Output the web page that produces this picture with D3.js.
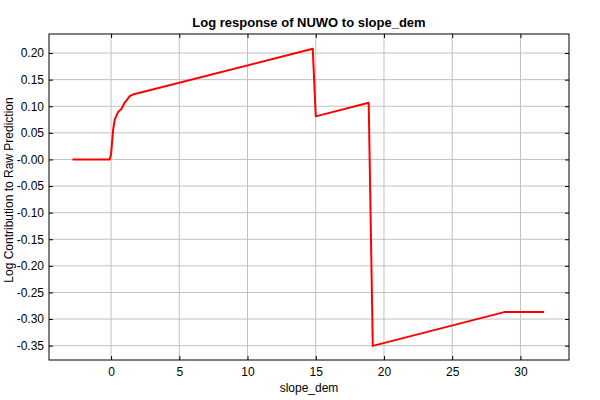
<!DOCTYPE html>
<html lang="en">
<meta charset="utf-8">
<style>
body { margin: 0; background: #fff; }
text { font-family: "Liberation Sans", Arial, sans-serif; }
</style>
<body>
<script src="https://cdn.jsdelivr.net/npm/d3@7"></script>
<div id="chart"></div>
<script>
// response curve
var slope = [-2.83, -0.1, 0.0, 0.15, 0.27, 0.51, 0.76, 1.0, 1.37, 1.6, 14.78, 15.0, 18.88, 19.18, 28.81, 31.74];
var contrib = [0, 0, 0.01, 0.056, 0.075, 0.089, 0.095, 0.107, 0.119, 0.122, 0.208, 0.081, 0.1066, -0.3505, -0.287, -0.287];

var xTicks = [0, 5, 10, 15, 20, 25, 30];
var yTicks = [0.20, 0.15, 0.10, 0.05, 0, -0.05, -0.10, -0.15, -0.20, -0.25, -0.30, -0.35];
var yTickLabels = ["0.20", "0.15", "0.10", "0.05", "-0.00", "-0.05", "-0.10", "-0.15", "-0.20", "-0.25", "-0.30", "-0.35"];

var width = 600, height = 400;
var margin = {top: 34, right: 31, bottom: 40, left: 49};
var w = width - margin.left - margin.right,
    h = height - margin.top - margin.bottom;

var x = d3.scaleLinear().domain([-4.55, 33.56]).range([0, w]);
var y = d3.scaleLinear().domain([-0.377, 0.2358]).range([h, 0]);

var svg = d3.select("#chart").append("svg")
    .attr("width", width)
    .attr("height", height);

svg.append("text")
    .attr("x", margin.left + w / 2)
    .attr("y", 27)
    .attr("text-anchor", "middle")
    .style("font-size", "13px")
    .style("font-weight", "bold")
    .text("Log response of NUWO to slope_dem");

var g = svg.append("g")
    .attr("transform", "translate(" + margin.left + "," + margin.top + ")");

// grid
g.selectAll(".vgrid")
    .data(xTicks)
  .enter().append("line")
    .attr("x1", function(d) { return x(d); })
    .attr("x2", function(d) { return x(d); })
    .attr("y1", 0).attr("y2", h)
    .style("stroke", "#c0c0c0");

g.selectAll(".hgrid")
    .data(yTicks)
  .enter().append("line")
    .attr("y1", function(d) { return y(d); })
    .attr("y2", function(d) { return y(d); })
    .attr("x1", 0).attr("x2", w)
    .style("stroke", "#c0c0c0");

// axes, ticks pointing inward
var fmt = function(d, i) { return yTickLabels[i]; };

g.append("g")
    .attr("transform", "translate(0," + h + ")")
    .call(d3.axisBottom(x).tickValues(xTicks).tickSize(-4).tickPadding(7).tickFormat(d3.format("d")));
g.append("g")
    .call(d3.axisTop(x).tickValues(xTicks).tickSize(-4).tickFormat(""));
g.append("g")
    .call(d3.axisLeft(y).tickValues(yTicks).tickSize(-4).tickPadding(5).tickFormat(fmt));
g.append("g")
    .attr("transform", "translate(" + w + ",0)")
    .call(d3.axisRight(y).tickValues(yTicks).tickSize(-4).tickFormat(""));

g.selectAll(".domain").remove();
g.selectAll(".tick line").style("stroke", "#000");
g.selectAll(".tick text")
    .style("font-size", "12px")
    .style("font-family", "'Liberation Sans', Arial, sans-serif")
    .style("fill", "#000");

g.append("rect")
    .attr("width", w).attr("height", h)
    .style("fill", "none")
    .style("stroke", "#000");

// response line
var line = d3.line()
    .x(function(d, i) { return x(slope[i]); })
    .y(function(d, i) { return y(contrib[i]); });

g.append("path")
    .datum(contrib)
    .attr("d", line)
    .style("fill", "none")
    .style("stroke", "#ff0000")
    .style("stroke-width", 2)
    .style("stroke-linejoin", "round");

// axis titles
svg.append("text")
    .attr("x", margin.left + w / 2)
    .attr("y", 392)
    .attr("text-anchor", "middle")
    .style("font-size", "12px")
    .text("slope_dem");

svg.append("text")
    .attr("transform", "translate(13," + (margin.top + h / 2 - 7) + ") rotate(-90)")
    .attr("text-anchor", "middle")
    .style("font-size", "12px")
    .text("Log Contribution to Raw Prediction");
</script>
</body>
</html>
